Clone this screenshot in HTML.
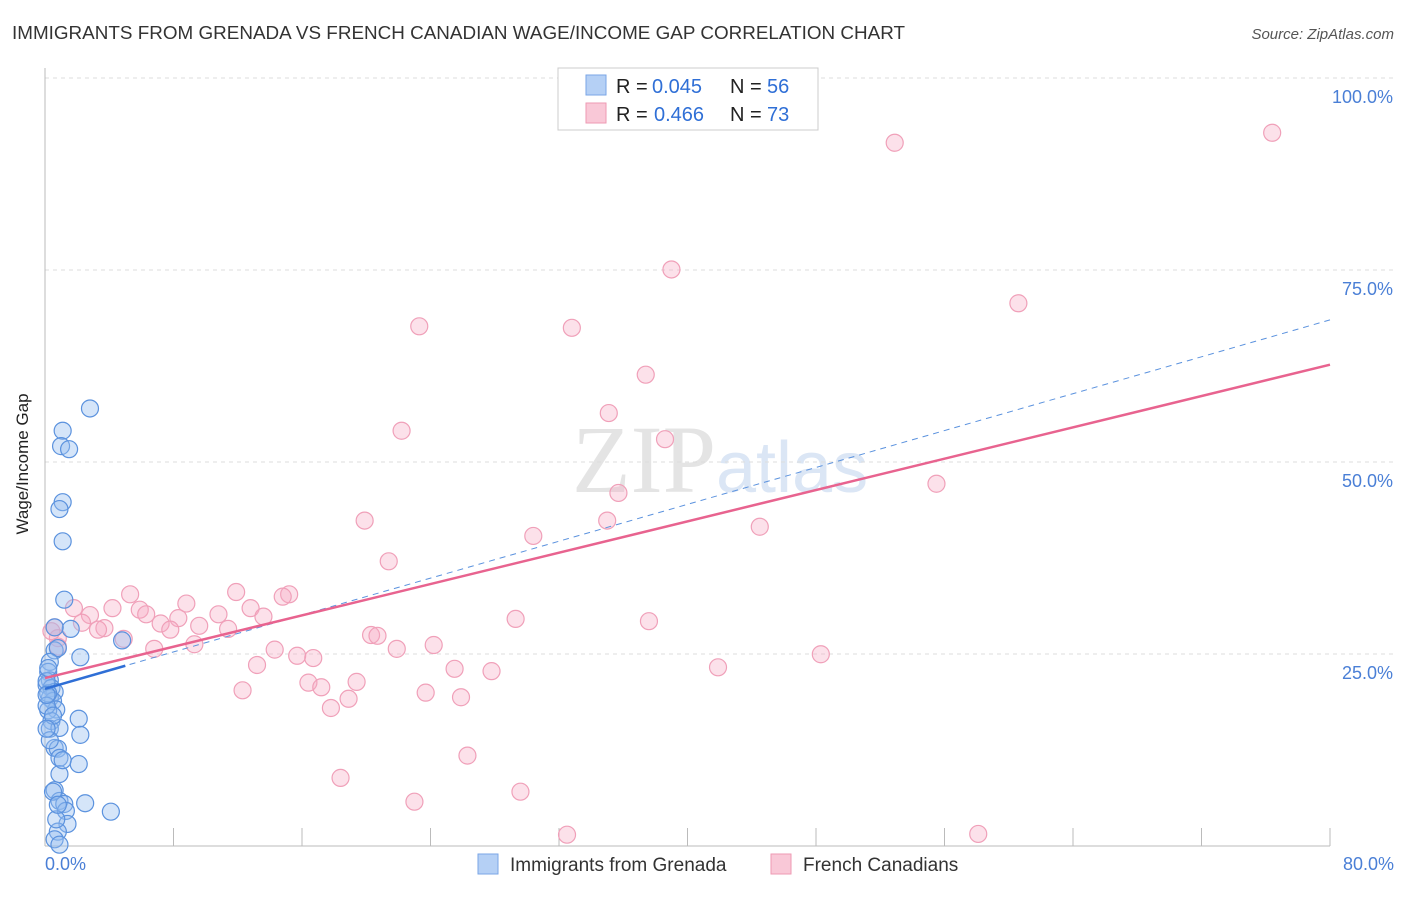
<!DOCTYPE html>
<html><head><meta charset="utf-8"><style>
body{margin:0;background:#fff;font-family:"Liberation Sans",sans-serif;}
</style></head><body>
<svg width="1406" height="892" xmlns="http://www.w3.org/2000/svg">
<text x="12" y="39" font-size="18.5" fill="#333" textLength="893" lengthAdjust="spacingAndGlyphs">IMMIGRANTS FROM GRENADA VS FRENCH CANADIAN WAGE/INCOME GAP CORRELATION CHART</text>
<text x="1394" y="39" font-size="15" fill="#555" font-style="italic" text-anchor="end">Source: ZipAtlas.com</text>
<text x="716" y="492" font-size="96" fill="#e4e4e4" text-anchor="end" font-family="Liberation Serif">ZIP</text>
<text x="716" y="492" font-size="72" fill="#dbe6f5">atlas</text>
<g id="grid"></g>
<line x1="45" y1="68" x2="45" y2="846" stroke="#bbb"/>
<line x1="45" y1="846" x2="1330" y2="846" stroke="#bbb"/>
<g id="xt"></g>
<text x="20" y="456" font-size="17" fill="#222" text-anchor="middle" transform="rotate(-90 28 456)">Wage/Income Gap</text>
<text x="45" y="870" font-size="18" fill="#4a7fd6">0.0%</text>
<text x="1394" y="870" font-size="18" fill="#4a7fd6" text-anchor="end">80.0%</text>
<g id="pts"></g>
<g id="lines"></g>
<g>
<rect x="558" y="68" width="260" height="62" fill="#fff" stroke="#ccc"/>
<rect x="586" y="75" width="20" height="20" fill="#b5d0f5" stroke="#7aa6e6"/>
<text x="616" y="93" font-size="20" fill="#222">R =</text>
<text x="652" y="93" font-size="20" fill="#2f6fd6">0.045</text>
<text x="730" y="93" font-size="20" fill="#222">N =</text>
<text x="767" y="93" font-size="20" fill="#2f6fd6">56</text>
<rect x="586" y="103" width="20" height="20" fill="#f9c8d7" stroke="#ee9ab3"/>
<text x="616" y="121" font-size="20" fill="#222">R =</text>
<text x="654" y="121" font-size="20" fill="#2f6fd6">0.466</text>
<text x="730" y="121" font-size="20" fill="#222">N =</text>
<text x="767" y="121" font-size="20" fill="#2f6fd6">73</text>
</g>
<g>
<rect x="478" y="854" width="20" height="20" fill="#b5d0f5" stroke="#7aa6e6"/>
<text x="510" y="871" font-size="19" fill="#333">Immigrants from Grenada</text>
<rect x="771" y="854" width="20" height="20" fill="#f9c8d7" stroke="#ee9ab3"/>
<text x="803" y="871" font-size="19" fill="#333">French Canadians</text>
</g>
</svg>
<script>
const yTicks=[25,50,75,100];
const xTickVals=[0,8,16,24,32,40,48,56,64,72,80];
const blueX=[2.8,1.1,1.0,1.5,1.1,0.9,1.1,1.2,1.6,0.6,0.6,0.8,2.2,4.8,0.3,0.2,0.3,0.1,0.4,0.6,0.3,0.5,0.7,0.2,2.1,0.4,0.3,0.9,2.2,0.6,0.8,0.9,2.1,0.9,0.6,0.9,1.2,2.5,1.3,1.4,4.1,0.8,0.6,0.9,0.2,0.1,0.1,0.5,1.1,0.3,0.1,0.2,0.7,0.5,0.8,0.1];
const blueY=[57.1,54.2,52.2,51.8,44.9,44.0,39.8,32.2,28.4,28.6,25.6,25.9,24.7,26.9,24.1,22.8,21.7,21.1,20.7,20.2,19.4,19.0,17.9,17.8,16.7,16.4,15.4,15.5,14.6,12.9,12.8,11.6,10.8,9.5,7.4,6.0,5.6,5.7,4.7,3.0,4.6,2.0,1.0,0.3,20.0,21.6,18.4,17.1,11.3,13.9,19.8,23.3,3.6,7.2,5.5,15.4];
const pinkX=[52.9,76.4,39.0,60.6,23.3,32.8,37.4,35.1,22.2,38.6,35.7,55.5,19.9,35.0,30.4,44.5,21.4,11.9,15.2,5.3,14.8,8.8,4.2,5.9,1.8,12.8,6.3,2.8,10.8,8.3,13.6,7.2,9.6,2.3,11.4,3.7,3.3,7.8,29.3,37.6,0.6,0.8,20.3,20.7,4.9,9.3,24.2,6.8,14.3,21.9,15.7,16.7,13.2,25.5,27.8,41.9,48.3,16.4,19.4,17.2,12.3,23.7,25.9,18.9,17.8,26.3,18.4,23.0,29.6,32.5,58.1,0.8,0.4];
const pinkY=[91.7,93.0,75.2,70.8,67.8,67.6,61.5,56.5,54.2,53.1,46.1,47.3,42.5,42.5,40.5,41.7,37.2,33.2,32.9,32.9,32.6,31.7,31.1,30.9,31.1,31.1,30.3,30.2,30.3,29.8,30.0,29.1,28.8,29.2,28.4,28.5,28.3,28.3,29.7,29.4,28.6,26.1,27.6,27.5,27.1,26.4,26.3,25.8,25.7,25.8,24.9,24.6,23.7,23.2,22.9,23.4,25.1,21.4,21.5,20.8,20.4,20.1,19.5,19.3,18.1,11.9,9.0,5.9,7.2,1.6,1.7,27.2,28.1];
const blueLine=[20.6,0.0395];
const pinkLine=[22.0,0.51];
const X=v=>45+v*16.0625, Y=v=>847-v*7.68;
const NS="http://www.w3.org/2000/svg";
function mk(t,a,p){const e=document.createElementNS(NS,t);for(const k in a)e.setAttribute(k,a[k]);p.appendChild(e);return e;}
const g=document.getElementById('grid');
yTicks.forEach(v=>{
 const l=mk('line',{x1:45,x2:1394,y1:Y(v)-1,y2:Y(v)-1,stroke:'#ddd','stroke-dasharray':'4,4'},g);
 
 
 const t=mk('text',{x:1393,y:Y(v)+24,'font-size':18,fill:'#4a7fd6','text-anchor':'end'},g);
 t.textContent=v.toFixed(1)+'%';
 
 
});
const xt=document.getElementById('xt');
xTickVals.forEach(v=>{
 const l=mk('line',{x1:X(v),x2:X(v),y1:828,y2:846,stroke:'#bbb'},xt);
 
 
});
const pts=document.getElementById('pts');
pinkX.forEach((x,i)=>{
 const c=mk('circle',{cx:X(x),cy:Y(pinkY[i]),r:8.5,fill:'rgba(246,170,195,0.35)',stroke:'#f0a0b9','stroke-width':1.2},pts);
 
 
});
blueX.forEach((x,i)=>{
 const c=mk('circle',{cx:X(x),cy:Y(blueY[i]),r:8.5,fill:'rgba(150,190,240,0.4)',stroke:'#5b92de','stroke-width':1.2},pts);
 
 
});
const ln=document.getElementById('lines');
let l=mk('line',{x1:X(0),y1:Y(blueLine[0]),x2:X(80),y2:Y(blueLine[0]+80*blueLine[1]*15.2),stroke:'#5b92de','stroke-width':1,'stroke-dasharray':'6,5'},ln);


l=mk('line',{x1:X(0),y1:Y(blueLine[0]),x2:X(5),y2:Y(blueLine[0]+5*blueLine[1]*15.2),stroke:'#2f6fd6','stroke-width':2.5},ln);


l=mk('line',{x1:X(0),y1:Y(pinkLine[0]),x2:X(80),y2:Y(pinkLine[0]+80*pinkLine[1]),stroke:'#e8638f','stroke-width':2.5},ln);


</script>
</body></html>
